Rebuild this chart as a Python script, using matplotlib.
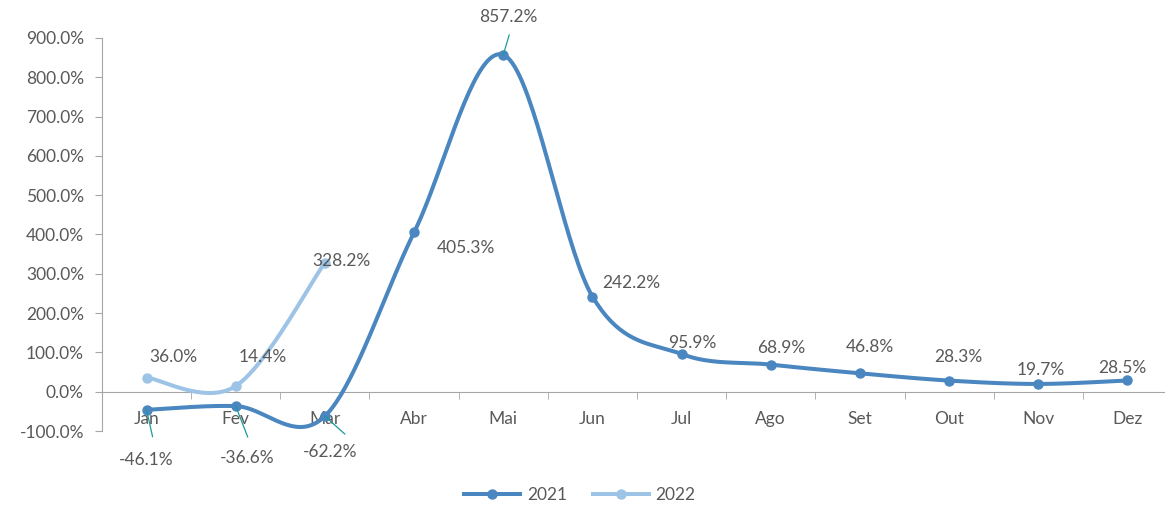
import numpy as np
import matplotlib.pyplot as plt

plt.rcParams['font.family'] = ['Lato', 'DejaVu Sans']

months = ['Jan', 'Fev', 'Mar', 'Abr', 'Mai', 'Jun', 'Jul', 'Ago', 'Set', 'Out', 'Nov', 'Dez']
vals_2021 = [-46.1, -36.6, -62.2, 405.3, 857.2, 242.2, 95.9, 68.9, 46.8, 28.3, 19.7, 28.5]
vals_2022 = [36.0, 14.4, 328.2]

# label offsets in pixels from each point
off_2021 = [(0, -50), (11, -52), (5, -36), (52, -16), (5, 38), (39, 14),
            (11, 11), (10, 17), (10, 26), (9, 24), (3, 14), (-5, 12)]
off_2022 = [(27, 21), (27, 29), (17, 2)]
# leader lines (end offset in pixels) for the labels pulled away from their points
leaders_2021 = {0: (6, -27), 1: (12, -31), 2: (20, -18), 4: (6, 20)}

c21 = '#4A86BF'
c22 = '#9DC3E6'
txt = '#595959'
teal = '#1A9A9A'
fs = 12.5


def smooth(y, n=40):
    # catmull-rom style curve through the points, like Excel's smoothed line
    x = np.arange(len(y), dtype=float)
    y = np.asarray(y, dtype=float)
    px = np.concatenate([[x[0]], x, [x[-1]]])
    py = np.concatenate([[y[0]], y, [y[-1]]])
    xs, ys = [], []
    t = np.linspace(0, 1, n)
    for i in range(1, len(px) - 2):
        p0 = np.array([px[i], py[i]])
        p3 = np.array([px[i + 1], py[i + 1]])
        p1 = p0 + (np.array([px[i + 1], py[i + 1]]) - np.array([px[i - 1], py[i - 1]])) / 6
        p2 = p3 - (np.array([px[i + 2], py[i + 2]]) - np.array([px[i], py[i]])) / 6
        b = ((1 - t) ** 3)[:, None] * p0 + (3 * (1 - t) ** 2 * t)[:, None] * p1 \
            + (3 * (1 - t) * t ** 2)[:, None] * p2 + (t ** 3)[:, None] * p3
        xs.extend(b[:, 0])
        ys.extend(b[:, 1])
    return np.array(xs), np.array(ys)


fig = plt.figure(figsize=(11.65, 5.07), dpi=100)
ax = fig.add_axes([102 / 1165, 1 - 431 / 507, 1070 / 1165, 393 / 507])

x21 = np.arange(len(vals_2021))
x22 = np.arange(len(vals_2022))

sx, sy = smooth(vals_2021)
ax.plot(sx, sy, color=c21, lw=2.9, solid_capstyle='round', zorder=3)
ax.plot(x21, vals_2021, 'o', color=c21, ms=6.5, zorder=4)
sx, sy = smooth(vals_2022)
ax.plot(sx, sy, color=c22, lw=2.9, solid_capstyle='round', zorder=3)
ax.plot(x22, vals_2022, 'o', color=c22, ms=6.5, zorder=4)

for i, v in enumerate(vals_2021):
    ax.annotate(f'{v:.1f}%', (x21[i], v), xytext=off_2021[i], textcoords='offset pixels',
                ha='center', va='center', fontsize=fs, color=txt, zorder=5)
    if i in leaders_2021:
        ax.annotate('', (x21[i], v), xytext=leaders_2021[i], textcoords='offset pixels',
                    arrowprops=dict(arrowstyle='-', color=teal, lw=0.9, shrinkA=0, shrinkB=0),
                    zorder=5)
for i, v in enumerate(vals_2022):
    ax.annotate(f'{v:.1f}%', (x22[i], v), xytext=off_2022[i], textcoords='offset pixels',
                ha='center', va='center', fontsize=fs, color=txt, zorder=5)

ax.set_xlim(-0.5, 11.5)
ax.set_ylim(-100, 900)
ax.set_yticks(range(-100, 1000, 100))
ax.set_yticklabels([f'{v:.1f}%' for v in range(-100, 1000, 100)])
ax.set_xticks(x21)
ax.set_xticklabels(months)
ax.set_xticks(np.arange(0.5, 11.5, 1), minor=True)

for s in ['top', 'right']:
    ax.spines[s].set_visible(False)
ax.spines['bottom'].set_position(('data', 0))
ax.spines['bottom'].set_color('#A6A6A6')
ax.spines['left'].set_color('#A6A6A6')
ax.tick_params(axis='y', length=5, color='#A6A6A6', labelsize=fs, labelcolor=txt, pad=8)
ax.tick_params(axis='x', which='major', length=0, pad=14, labelsize=fs, labelcolor=txt)
ax.tick_params(axis='x', which='minor', length=5, color='#A6A6A6')

h21, = ax.plot([], [], '-o', color=c21, lw=2.9, ms=6.5)
h22, = ax.plot([], [], '-o', color=c22, lw=2.9, ms=6.5)
fig.legend([h21, h22], ['2021', '2022'], loc='center', bbox_to_anchor=(580 / 1165, 1 - 495 / 507),
           ncol=2, frameon=False, fontsize=fs, labelcolor=txt, handlelength=3.2,
           columnspacing=1.5, handletextpad=0.4)

fig.savefig('out.png', dpi=100)
